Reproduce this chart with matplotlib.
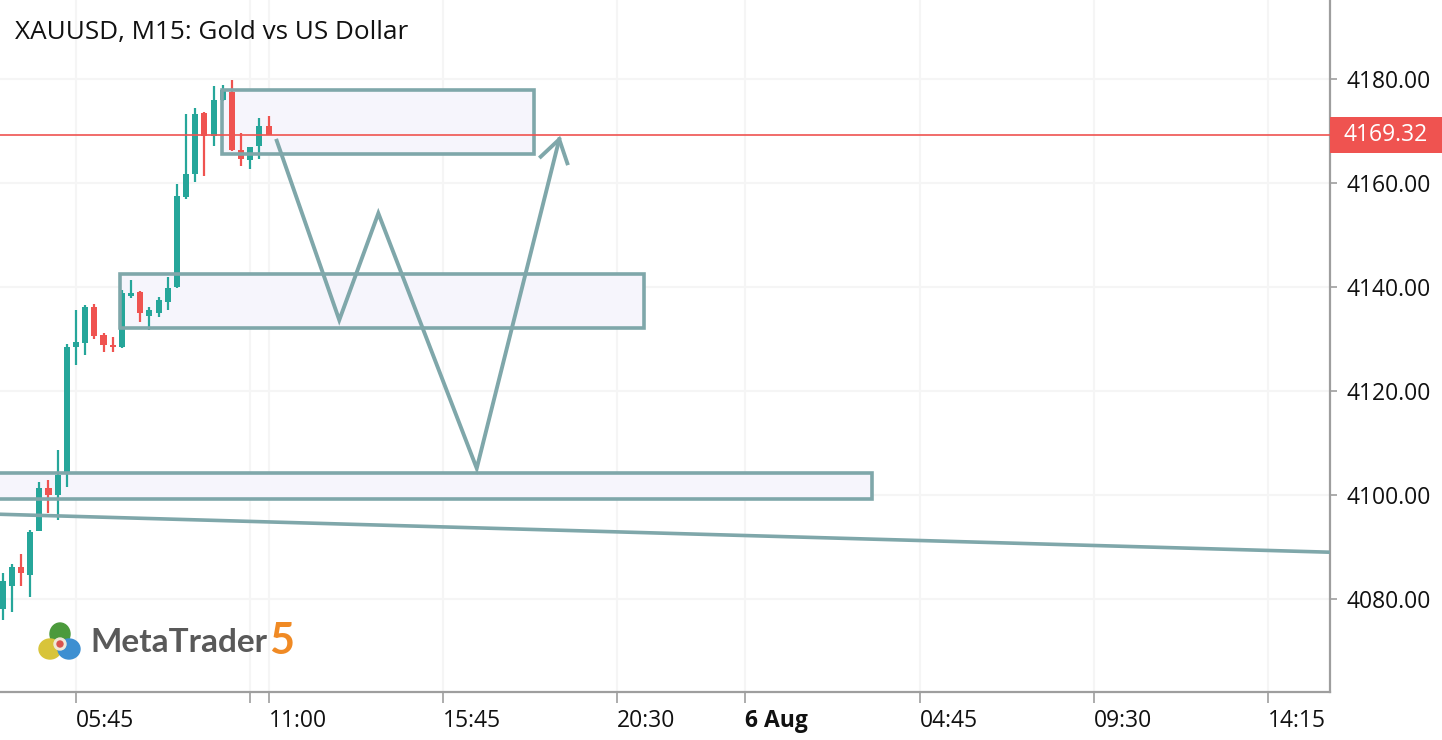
import matplotlib
matplotlib.use("Agg")
import matplotlib.pyplot as plt
import matplotlib.transforms as mtransforms
from matplotlib.patches import Rectangle, Circle, Ellipse

plt.rcParams['font.family'] = ['Open Sans', 'DejaVu Sans']

# ---------------- data ----------------
title = "XAUUSD, M15: Gold vs US Dollar"
first_bar = -8  # bar index of first candle (bar 0 = 05:45)
opens  = [4078.0, 4082.5, 4086.2, 4084.6, 4093.1, 4101.3, 4100.0, 4104.2,
          4128.5, 4129.2, 4136.2, 4130.8, 4128.8, 4128.5, 4138.2, 4139.0,
          4134.4, 4135.0, 4137.1, 4140.0, 4157.3, 4161.7, 4173.5, 4169.0,
          4176.0, 4177.5, 4166.3, 4164.4, 4167.1, 4171.0]
highs  = [4085.0, 4086.7, 4088.7, 4093.3, 4102.5, 4102.9, 4108.7, 4129.0,
          4135.6, 4136.5, 4136.7, 4131.2, 4130.4, 4139.4, 4141.3, 4139.2,
          4136.2, 4138.0, 4141.9, 4159.8, 4173.3, 4174.4, 4173.7, 4178.7,
          4178.8, 4179.8, 4169.6, 4167.0, 4172.5, 4172.9]
lows   = [4076.0, 4077.5, 4082.5, 4080.4, 4093.0, 4096.5, 4095.2, 4101.5,
          4125.0, 4127.0, 4130.0, 4127.5, 4127.5, 4128.3, 4137.9, 4133.3,
          4131.7, 4134.2, 4135.6, 4139.8, 4157.0, 4160.2, 4161.3, 4167.1,
          4175.8, 4166.2, 4163.3, 4162.7, 4164.6, 4169.3]
closes = [4083.5, 4086.2, 4085.0, 4092.9, 4101.3, 4100.0, 4103.8, 4128.5,
          4129.4, 4136.2, 4130.6, 4128.8, 4128.5, 4138.8, 4138.8, 4135.0,
          4135.6, 4137.5, 4139.8, 4157.5, 4161.7, 4173.3, 4169.0, 4176.0,
          4177.9, 4166.3, 4164.6, 4166.9, 4171.0, 4169.32]
current_price = 4169.32

time_tick_pos = [0, 21, 40, 59, 73, 92, 111, 130]
time_tick_lbl = ["05:45", "11:00", "15:45", "20:30", "6 Aug", "04:45", "09:30", "14:15"]
extra_tick_pos = [19]
price_ticks = [4080, 4100, 4120, 4140, 4160, 4180]

# zones: (x_start, x_end, price_low, price_high)
zone_x0 = [15.9, 4.8, -12.0]
zone_x1 = [49.95, 61.9, 86.8]
zone_lo = [4165.6, 4132.1, 4099.2]
zone_hi = [4177.9, 4142.5, 4104.2]

# trend line
trend_x = [-8.3, 136.75]
trend_y = [4096.3, 4089.0]

# projected path with arrow
path_x = [21.89, 28.71, 32.97, 43.70, 52.70]
path_y = [4168.13, 4133.65, 4154.17, 4105.13, 4168.40]
wing_x = [50.68, 52.70, 53.58]
wing_y = [4165.06, 4168.40, 4163.79]

# ---------------- style ----------------
UP = "#26a69a"
DN = "#ef5350"
EDGE = "#7fa7aa"
FILL = "#f6f5fc"
GRID = "#f5f5f5"
AXC = "#9e9e9e"

W, H = 1442, 740
fig = plt.figure(figsize=(W / 100, H / 100), dpi=100)
ax = fig.add_axes([0, 1 - 692 / H, 1330 / W, 692 / H])
ax.set_xlim(-8.288, 136.75)
ax.set_ylim(4062.12, 4195.19)

# grid
for p in price_ticks:
    ax.axhline(p, color=GRID, lw=1.5, zorder=0)
for t in time_tick_pos + extra_tick_pos:
    ax.axvline(t, color=GRID, lw=1.5, zorder=0)

# zones fill (behind candles)
for x0, x1, lo, hi in zip(zone_x0, zone_x1, zone_lo, zone_hi):
    ax.add_patch(Rectangle((x0, lo), x1 - x0, hi - lo, facecolor=FILL,
                           edgecolor="none", zorder=1))

# candles
for k, (o, h, l, c) in enumerate(zip(opens, highs, lows, closes)):
    x = first_bar + k
    col = UP if c >= o else DN
    ax.vlines(x, l, h, color=col, lw=1.6, zorder=3)
    body = max(abs(c - o), 0.35)
    ax.bar(x, body, bottom=min(o, c) if abs(c - o) >= 0.35 else (o + c) / 2 - 0.175,
           width=0.66, color=col, zorder=3, linewidth=0)

# zone edges (on top)
for x0, x1, lo, hi in zip(zone_x0, zone_x1, zone_lo, zone_hi):
    ax.add_patch(Rectangle((x0, lo), x1 - x0, hi - lo, facecolor="none",
                           edgecolor=EDGE, lw=2.6, zorder=4))

# current price line
ax.axhline(current_price, color=DN, lw=1.2, zorder=5)

# trend line and path
ax.plot(trend_x, trend_y, color=EDGE, lw=2.6, zorder=4, solid_capstyle='butt')
ax.plot(path_x, path_y, color=EDGE, lw=2.8, zorder=6, solid_joinstyle='miter')
ax.plot(wing_x, wing_y, color=EDGE, lw=2.8, zorder=6, solid_joinstyle='miter')

# axes styling
for s in ["top", "left"]:
    ax.spines[s].set_visible(False)
ax.spines["right"].set_color(AXC)
ax.spines["right"].set_linewidth(1.6)
ax.spines["bottom"].set_color(AXC)
ax.spines["bottom"].set_linewidth(1.6)

ax.yaxis.tick_right()
ax.set_yticks(price_ticks)
ax.set_yticklabels([f"{p:.2f}" for p in price_ticks], fontsize=16.5, color="#111111")
ax.tick_params(axis="y", length=5, width=1.2, color=AXC, pad=7)

ax.set_xticks(time_tick_pos + extra_tick_pos)
ax.set_xticklabels(time_tick_lbl + [""], fontsize=16.5, color="#111111")
ax.tick_params(axis="x", length=8, width=1.2, color=AXC, pad=4)
for lbl in ax.get_xticklabels():
    lbl.set_horizontalalignment("left")
    if lbl.get_text() == "6 Aug":
        lbl.set_fontweight("bold")

# price label box
trans = mtransforms.blended_transform_factory(ax.transAxes, ax.transData)
half = 18 / 5.2
ax.add_patch(Rectangle((1.0, current_price - half), W / 1330 - 1.0, 2 * half,
                       transform=trans, facecolor=DN, edgecolor="none",
                       clip_on=False, zorder=10))
ax.text(1.0 + (W / 1330 - 1.0) / 2, current_price, f"{current_price:.2f}",
        transform=trans, ha="center", va="center", color="white",
        fontsize=16.5, zorder=11, clip_on=False)

# title
fig.text(15 / W, 1 - 33 / H, title, fontsize=18.8, color="#111111",
         ha="left", va="center")

# MetaTrader logo
lax = fig.add_axes([36 / W, 1 - 666 / H, 48 / W, 48 / H])
lax.set_xlim(0, 48)
lax.set_ylim(0, 48)
lax.axis("off")
lax.add_patch(Ellipse((24, 32), 20, 22, color="#4b9a3c"))
lax.add_patch(Ellipse((14, 17), 22, 20, color="#d8c43a"))
lax.add_patch(Ellipse((33, 17), 22, 20, color="#3d8fd1"))
lax.add_patch(Circle((24, 22), 6, color="#f0e9d8"))
lax.add_patch(Circle((24, 22), 3, color="#d9534f"))
fig.text(90 / W, 1 - 642 / H, "MetaTrader", fontsize=24, fontweight="bold",
         color="#595959", ha="left", va="center", family=["Lato", "DejaVu Sans"])
fig.text(269 / W, 1 - 641 / H, "5", fontsize=31, fontweight="bold",
         color="#f08a24", ha="left", va="center", family=["Lato", "DejaVu Sans"])

fig.savefig("out.png", dpi=100)
